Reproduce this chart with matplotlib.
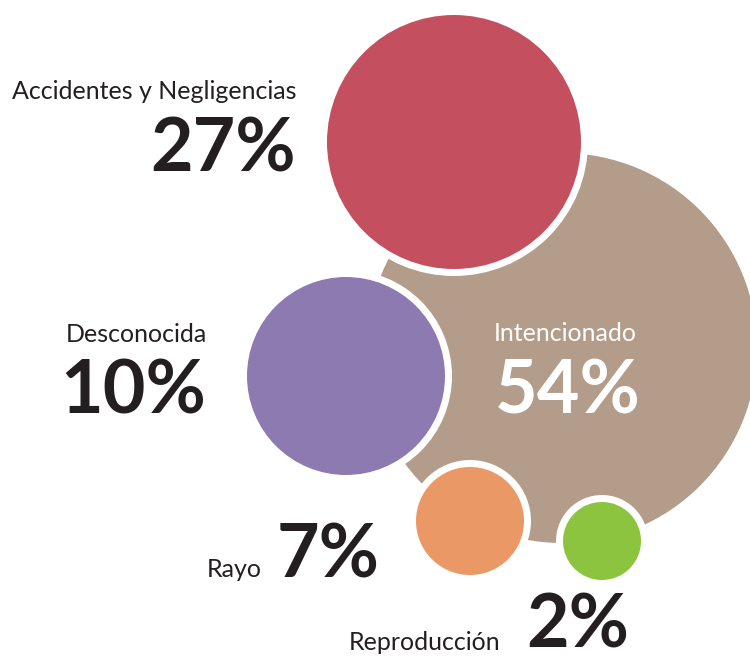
import matplotlib.pyplot as plt
from matplotlib.patches import Circle

# data
categories = ["Intencionado", "Accidentes y Negligencias", "Desconocida", "Rayo", "Reproducción"]
percentages = [54, 27, 10, 7, 2]

# look
colors = ["#b39c89", "#c4505f", "#8d7ab0", "#ea9966", "#8cc43f"]
# bubble layout in pixel units (x, y from top-left) and radius
centers = [(562, 348), (454, 142), (346, 376), (470, 521), (602, 541)]
radii = [195, 127, 99, 54, 39]
gap = 7  # white ring round the small bubbles

# label layout: (x_label, y_label, ha, x_pct, y_pct, ha_pct, text color)
label_pos = [
    (494, 341, "left", 495, 413, "left", "white"),
    (296, 99, "right", 296, 172, "right", "#231f20"),
    (207, 342, "right", 206, 413, "right", "#231f20"),
    (262, 577, "right", 277, 577, "left", "#231f20"),
    (500, 650, "right", 526, 647, "left", "#231f20"),
]

fig = plt.figure(figsize=(7.5, 6.57), dpi=100)
ax = fig.add_axes([0, 0, 1, 1])
ax.set_xlim(0, 750)
ax.set_ylim(657, 0)
ax.set_aspect("equal")
ax.axis("off")

for i in range(len(percentages)):
    cx, cy = centers[i]
    if i > 0:
        ax.add_patch(Circle((cx, cy), radii[i] + gap, facecolor="white", lw=0, zorder=2 * i))
    ax.add_patch(Circle((cx, cy), radii[i], facecolor=colors[i], lw=0, zorder=2 * i + 1))

for i in range(len(categories)):
    xl, yl, ha, xp, yp, hap, tc = label_pos[i]
    ax.text(xl, yl, categories[i], ha=ha, va="baseline", fontsize=18,
            family="Lato", color=tc, zorder=20)
    ax.text(xp, yp, f"{percentages[i]}%", ha=hap, va="baseline", fontsize=53,
            family="Lato", fontweight="bold", color=tc, zorder=20)

plt.savefig("out.png", dpi=100)
